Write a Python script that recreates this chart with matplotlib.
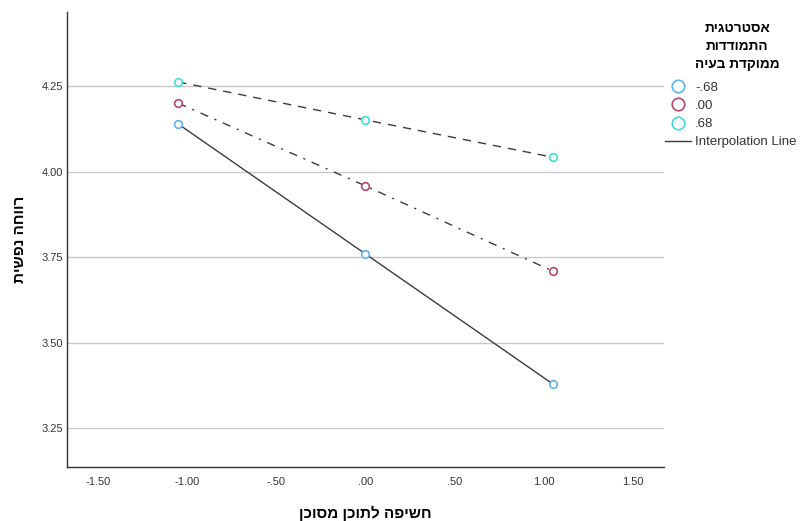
#גרף אינטראקציה - רווחה נפשית לפי חשיפה לתוכן מסוכן
import matplotlib.pyplot as plt
from matplotlib.lines import Line2D

plt.rcParams['font.family'] = ['Liberation Sans', 'DejaVu Sans']

# ערכי ציר X (חשיפה לתוכן מסוכן)
XValues = [-1.05, 0.0, 1.05]
# ערכים לכל רמה של אסטרטגית התמודדות
GroupLabels = ['-.68', '.00', '.68']
GroupValues = [
    [4.139, 3.759, 3.379],
    [4.200, 3.958, 3.709],
    [4.262, 4.151, 4.042],
]
GroupColors = ['#5ab4f0', '#b5476f', '#40dcdc']
GroupStyles = ['-', (0, (6, 5, 1.5, 5)), (0, (6, 5))]

XTicks = [-1.5, -1.0, -0.5, 0.0, 0.5, 1.0, 1.5]
XTickLabels = ['-1.50', '-1.00', '-.50', '.00', '.50', '1.00', '1.50']
YTicks = [3.25, 3.50, 3.75, 4.00, 4.25]
YTickLabels = ['3.25', '3.50', '3.75', '4.00', '4.25']

def rtl(s):
    # matplotlib לא תומך בכיוון ימין לשמאל - הופכים את המחרוזת
    return s[::-1]

fig = plt.figure(figsize=(8.01, 5.21), dpi=100)
ax = fig.add_axes([0.0836, 0.1036, 0.7454, 0.873])

for i in range(len(GroupLabels)):
    ax.plot(XValues, GroupValues[i], color='#3c3c3c', lw=1.0, linestyle=GroupStyles[i], zorder=2)
    ax.plot(XValues, GroupValues[i], linestyle='none', marker='o', ms=5.5, mfc='white',
            mec=GroupColors[i], mew=1.2, zorder=3)

ax.set_xlim(-1.674, 1.674)
ax.set_ylim(3.136, 4.466)
ax.set_xticks(XTicks)
ax.set_xticklabels(XTickLabels)
ax.set_yticks(YTicks)
ax.set_yticklabels(YTickLabels)
ax.tick_params(length=0, labelsize=8, colors='#333333')
ax.tick_params(axis='x', pad=7)
ax.tick_params(axis='y', pad=3)
ax.yaxis.grid(True, color='#c8c8c8', lw=1.0)
ax.set_axisbelow(True)
for side in ['top', 'right']:
    ax.spines[side].set_visible(False)
for side in ['left', 'bottom']:
    ax.spines[side].set_color('#333333')
    ax.spines[side].set_linewidth(1.0)

ax.set_xlabel(rtl('חשיפה לתוכן מסוכן'), fontsize=11, fontweight='bold', labelpad=14)
ax.set_ylabel(rtl('רווחה נפשית'), fontsize=11, fontweight='bold', labelpad=10)

# כותרת המקרא
title = '\n'.join([rtl('אסטרטגית'), rtl('התמודדות'), rtl('ממוקדת בעיה')])
fig.text(737 / 801, 1 - 21 / 521, title, ha='center', va='top', fontsize=9.8,
         fontweight='bold', linespacing=1.36, multialignment='center')

# מקרא
handles = []
for i in range(len(GroupLabels)):
    handles.append(Line2D([], [], linestyle='none', marker='o', ms=9, mfc='white',
                          mec=GroupColors[i], mew=1.2))
handles.append(Line2D([], [], color='#3c3c3c', lw=1.0))
labels = GroupLabels + ['Interpolation Line']
leg = fig.legend(handles, labels, loc='upper left', bbox_to_anchor=(0.830, 0.844),
                 frameon=False, fontsize=9.5, handlelength=2.0, handletextpad=0.3,
                 labelspacing=0.46, borderpad=0, borderaxespad=0)
for t in leg.get_texts():
    t.set_color('#333333')

plt.savefig('out.png', dpi=100)
